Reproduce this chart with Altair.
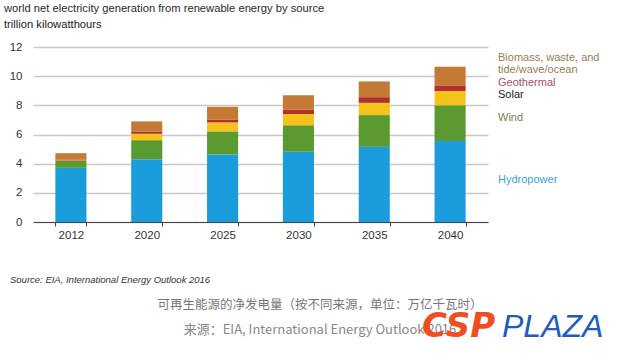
import altair as alt
import pandas as pd

years = ["2012", "2020", "2025", "2030", "2035", "2040"]
series = ["Hydropower", "Wind", "Solar", "Geothermal", "Biomass, waste, and tide/wave/ocean"]
hydropower = [3.71, 4.31, 4.63, 4.81, 5.15, 5.56]
wind = [0.48, 1.30, 1.58, 1.83, 2.18, 2.44]
solar = [0.03, 0.44, 0.62, 0.76, 0.84, 0.98]
geothermal = [0.06, 0.16, 0.20, 0.32, 0.39, 0.39]
biomass = [0.44, 0.69, 0.87, 0.98, 1.08, 1.28]
y_ticks = [0, 2, 4, 6, 8, 10, 12]

bar_colors = ["#1b9cdc", "#5b9a30", "#f6c21c", "#b2302a", "#c47a35"]

values = [hydropower, wind, solar, geothermal, biomass]
rows = []
for si, (s, vals) in enumerate(zip(series, values)):
    for y, v in zip(years, vals):
        rows.append({"year": y, "source": s, "value": v, "order": si})
df = pd.DataFrame(rows)

FONT = "Liberation Sans"

bars = alt.Chart(df).mark_bar().encode(
    x=alt.X("year:N", sort=years,
            scale=alt.Scale(paddingInner=0.59, paddingOuter=0.295),
            axis=alt.Axis(title=None, labelAngle=0, tickBand="extent",
                          domainColor="#444", tickColor="#444", tickSize=4,
                          labelPadding=3, labelFont=FONT, labelFontSize=11.5,
                          labelColor="#333", grid=False)),
    y=alt.Y("value:Q", stack="zero",
            scale=alt.Scale(domain=[0, 12], nice=False),
            axis=alt.Axis(title=None, values=y_ticks, domain=False, ticks=False,
                          labelPadding=11, labelFont=FONT, labelFontSize=11.5,
                          labelColor="#333", gridColor="#c8c8c8", gridWidth=1.3)),
    color=alt.Color("source:N", scale=alt.Scale(domain=series, range=bar_colors), legend=None),
    order=alt.Order("order:Q", sort="ascending"),
)

def txt(text, x, y, size=11, color="#333", align="left", baseline="middle",
        font=FONT, style="normal", weight="normal"):
    return alt.Chart(pd.DataFrame({"t": [text]})).mark_text(
        align=align, baseline=baseline, font=font, fontSize=size,
        color=color, fontStyle=style, fontWeight=weight,
    ).encode(text="t:N", x=alt.value(x), y=alt.value(y))

layers = [bars,
          txt("world net electricity generation from renewable energy by source", -29, -38.5, 11.2, "#2a2a2a"),
          txt("trillion kilowatthours", -29, -22, 11.2, "#1a1a1a"),
          # legend labels
          txt("Biomass, waste, and", 465, 11, 11, "#9c7b58"),
          txt("tide/wave/ocean", 465, 23, 11, "#9c7b58"),
          txt("Geothermal", 465, 36, 11, "#a8506e"),
          txt("Solar", 465, 48, 11, "#1a1a1a"),
          txt("Wind", 465, 71, 11, "#7d7c4e"),
          txt("Hydropower", 465, 133, 11, "#3ba3da"),
          # source & captions
          txt("Source:  EIA, International Energy Outlook 2016", -23, 233, 9.5, "#333", style="italic"),
          txt("可再生能源的净发电量（按不同来源，单位：万亿千瓦时）", 287, 258, 12.5, "#777",
              align="center", font="Noto Sans CJK SC"),
          txt("来源：EIA, International Energy Outlook 2016", 287, 283, 13, "#888",
              align="center", font="Noto Sans CJK SC"),
          txt("CSP", 389, 290, 34, "#ee4e22", baseline="alphabetic", font="DejaVu Sans",
              style="italic", weight="bold"),
          txt("PLAZA", 469, 290, 32, "#1e5cc0", baseline="alphabetic", style="italic"),
          ]

chart = alt.layer(*layers).properties(
    width=455, height=175,
    padding={"left": 33, "top": 47, "right": 132, "bottom": 135},
    autosize=alt.AutoSizeParams(type="none"),
    background="white",
).configure_view(stroke=None)

chart.save("out.html", embed_options={"renderer": "svg", "actions": False})
